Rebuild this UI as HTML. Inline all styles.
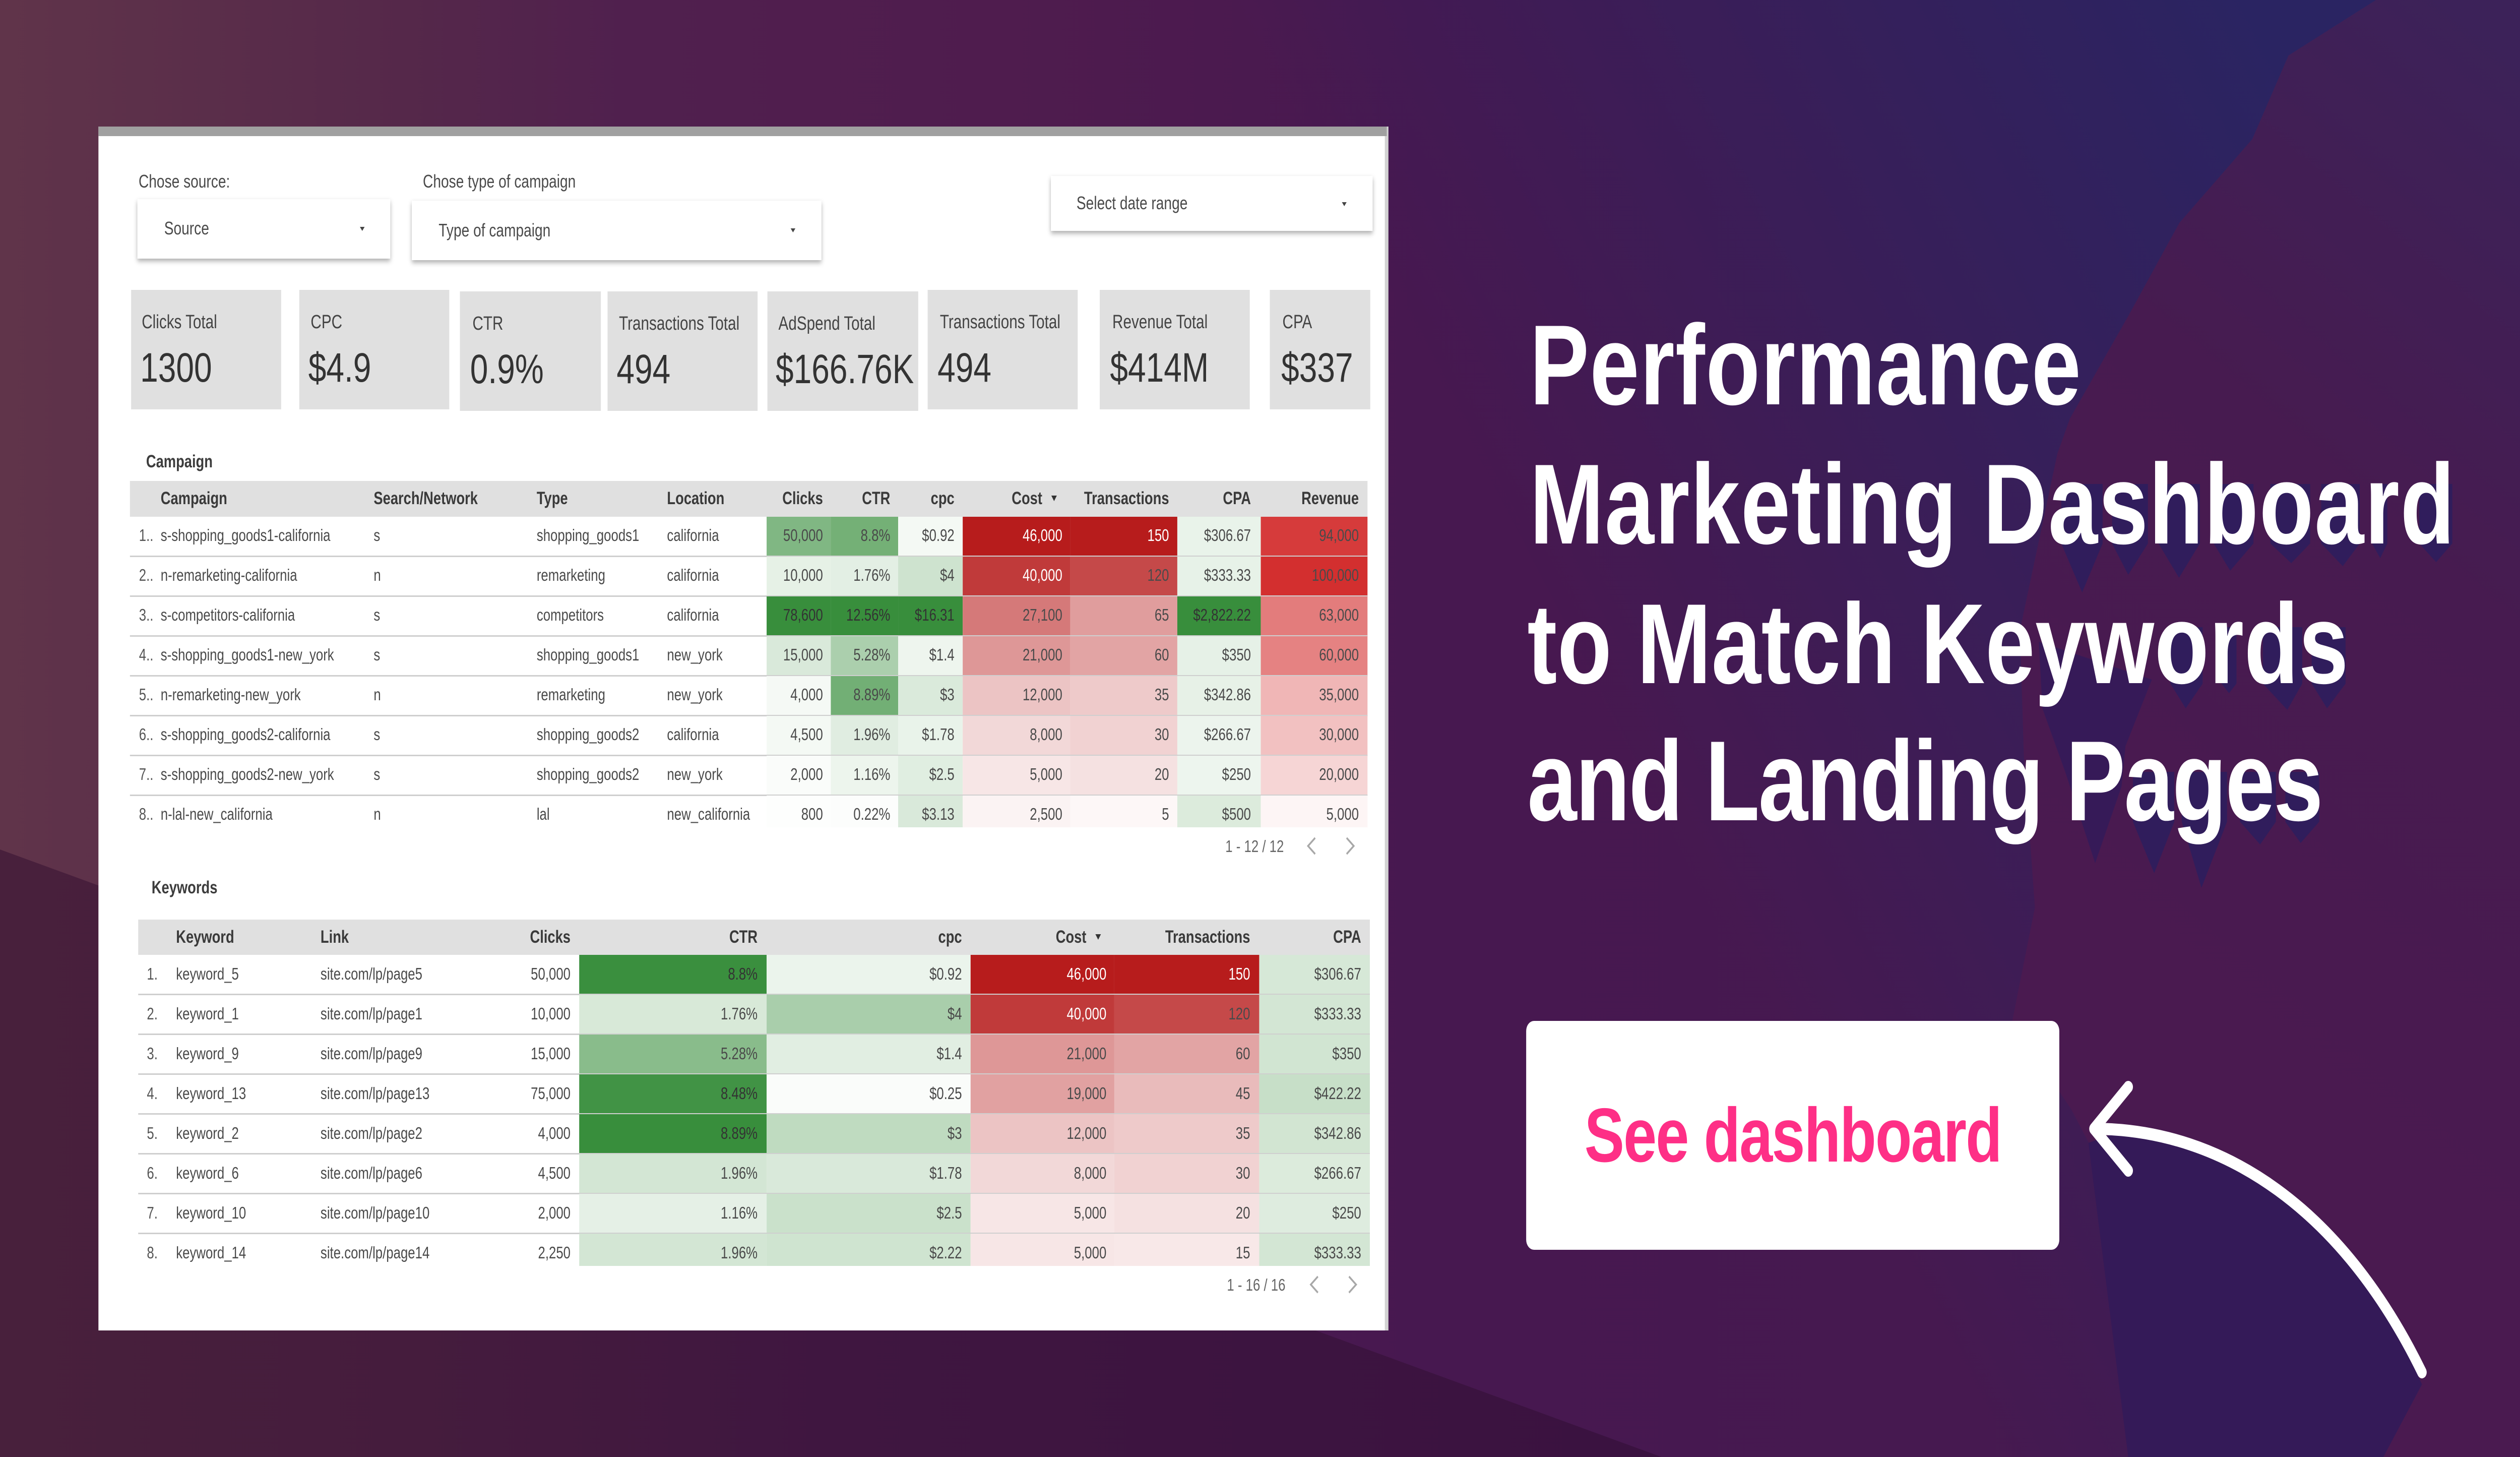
<!DOCTYPE html>
<html lang="en">
<head>
<meta charset="utf-8">
<title>Performance Marketing Dashboard</title>
<style>
html,body{margin:0;padding:0;width:100%;height:100%;overflow:hidden;background:#4a1a50}
#root{display:block;position:absolute;left:0;top:0;width:100vw;height:100vh}
text{font-family:"Liberation Sans",Arial,sans-serif}
</style>
</head>
<body>
<svg id="root" xmlns="http://www.w3.org/2000/svg" viewBox="0 0 6400 2890" preserveAspectRatio="none">
<defs>
<linearGradient id="bgH" gradientUnits="userSpaceOnUse" x1="0" y1="0" x2="6400" y2="0">
<stop offset="0" stop-color="#60344a"/><stop offset=".16" stop-color="#55284a"/><stop offset=".25" stop-color="#50204e"/><stop offset=".4" stop-color="#4f1c4e"/><stop offset=".56" stop-color="#471850"/><stop offset="1" stop-color="#451a50"/>
</linearGradient>
<linearGradient id="bgBlue" gradientUnits="userSpaceOnUse" x1="4000" y1="1300" x2="5800" y2="100">
<stop offset="0" stop-color="#2a2462" stop-opacity="0"/><stop offset=".55" stop-color="#2a2462" stop-opacity=".55"/><stop offset="1" stop-color="#2a2462" stop-opacity="1"/>
</linearGradient>
<linearGradient id="bgRight" gradientUnits="userSpaceOnUse" x1="5200" y1="1900" x2="6400" y2="100">
<stop offset="0" stop-color="#4a1a50"/><stop offset=".55" stop-color="#471b50"/><stop offset="1" stop-color="#3c2259"/>
</linearGradient>
<linearGradient id="bgDark" gradientUnits="userSpaceOnUse" x1="0" y1="0" x2="4200" y2="0">
<stop offset="0" stop-color="#48203c"/><stop offset=".25" stop-color="#451c3d"/><stop offset=".5" stop-color="#3f1640"/><stop offset="1" stop-color="#3a1240"/>
</linearGradient>
<filter id="dropShadow" x="-5%" y="-10%" width="110%" height="130%"><feDropShadow dx="0" dy="5" stdDeviation="5" flood-color="#000" flood-opacity=".32"/></filter>
</defs>

<g>
<rect width="6400" height="2890" fill="url(#bgH)"/>
<rect width="6400" height="2890" fill="url(#bgBlue)"/>
<polygon fill="url(#bgRight)" points="6034,0 5812,110 5720,276 5535,442 5405,627 5257,830 5225,900 5130,1250 5140,1500 5168,1800 5110,2027 5260,2200 5305,2267 5405,2890 6400,2890 6400,0"/>
<polygon fill="#341a58" points="5304,2267 5400,2240 5535,2252 5720,2313 5905,2442 6053,2580 6151,2746 6053,2890 5405,2890"/>
<polygon fill="url(#bgDark)" points="0,1685 4220,2890 0,2890"/>
<g fill="#301d5c">
<polygon points="5235,960 5340,960 5340,1078 5288,1175 5235,1078"/><polygon points="5364,960 5455,960 5455,1078 5405,1140 5364,1078"/><polygon points="5482,960 5587,960 5587,1078 5534,1146 5482,1078"/><polygon points="5622,960 5723,960 5723,1078 5664,1132 5622,1078"/><polygon points="5766,960 5867,960 5867,1078 5819,1117 5766,1078"/><polygon points="5895,960 5993,960 5993,1078 5950,1123 5895,1078"/><polygon points="6024,960 6063,960 6063,1078 6045,1107 6024,1078"/><polygon points="6144,960 6228,960 6228,1078 6187,1115 6144,1078"/>
<polygon fill="#361a58" points="5178,1273 5465,1348 5398,1480 5388,1560 5321,1712 5245,1531 5187,1405"/>
<polygon points="5512,1244 5594,1244 5594,1356 5551,1405 5512,1356"/><polygon points="5642,1244 5680,1244 5680,1356 5661,1375 5642,1356"/><polygon points="5747,1244 5847,1244 5847,1356 5809,1408 5747,1356"/><polygon points="5871,1244 5957,1244 5957,1356 5910,1405 5871,1356"/>
<polygon points="5417,1531 5522,1531 5522,1630 5471,1732 5417,1630"/><polygon points="5541,1531 5656,1531 5656,1630 5591,1761 5541,1630"/><polygon points="5689,1531 5780,1531 5780,1630 5740,1675 5689,1630"/><polygon points="5804,1531 5890,1531 5890,1630 5843,1672 5804,1630"/>
</g>
</g>

<g>
<rect x="250" y="251" width="3276" height="2388" fill="#fff"/>
<rect x="3517" y="251" width="9" height="2388" fill="#d2d2d2"/>
<rect x="250" y="251" width="3272" height="19" fill="#a0a0a0"/>

<g>
<text x="352" y="372" font-size="36" fill="#4a4a4a">Chose source:</text>
<g>
<rect x="349" y="395" width="642" height="118" fill="#fff" filter="url(#dropShadow)"/>
<text x="417" y="465" font-size="36" fill="#4a4a4a">Source</text>
<polygon points="914,450 926,450 920,458" fill="#444"/>
</g>
</g>
<g>
<text x="1074" y="372" font-size="36" fill="#4a4a4a">Chose type of campaign</text>
<g>
<rect x="1046" y="398" width="1040" height="118" fill="#fff" filter="url(#dropShadow)"/>
<text x="1114" y="469" font-size="36" fill="#4a4a4a">Type of campaign</text>
<polygon points="2008,453 2020,453 2014,461" fill="#444"/>
</g>
</g>
<g>
<rect x="2669" y="349" width="817" height="109" fill="#fff" filter="url(#dropShadow)"/>
<text x="2734" y="415" font-size="36" fill="#4a4a4a">Select date range</text>
<polygon points="3408,401 3420,401 3414,409" fill="#444"/>
</g>

<g id="cards"></g>
<text x="371" y="927" font-size="35" font-weight="700" fill="#3c3c3c">Campaign</text>
<g id="campaign-table"></g>
<text x="3112" y="1690" font-size="33" fill="#666">1 - 12 / 12</text>
<polyline points="3340,1662 3322,1678 3340,1694" fill="none" stroke="#a8a8a8" stroke-width="4"/>
<polyline points="3420,1662 3438,1678 3420,1694" fill="none" stroke="#a8a8a8" stroke-width="4"/>

<text x="385" y="1772" font-size="35" font-weight="700" fill="#3c3c3c">Keywords</text>
<g id="keywords-table"></g>
<text x="3116" y="2560" font-size="33" fill="#666">1 - 16 / 16</text>
<polyline points="3347,2532 3329,2548 3347,2564" fill="none" stroke="#a8a8a8" stroke-width="4"/>
<polyline points="3426,2532 3444,2548 3426,2564" fill="none" stroke="#a8a8a8" stroke-width="4"/>
</g>

<g font-weight="700" font-size="226" fill="#fff">
<text x="3885" y="802" textLength="1400" lengthAdjust="spacing">Performance</text>
<text x="3885" y="1078" textLength="2349" lengthAdjust="spacing">Marketing Dashboard</text>
<text x="3879" y="1355" textLength="2085" lengthAdjust="spacing">to Match Keywords</text>
<text x="3879" y="1627" textLength="2021" lengthAdjust="spacing">and Landing Pages</text>
</g>

<g>
<rect x="3876" y="2025" width="1354" height="454" rx="20" ry="20" fill="#fff"/>
<text x="4024" y="2304" font-size="152" font-weight="700" fill="#fe2f86" textLength="1061" lengthAdjust="spacing">See dashboard</text>
</g>
<g fill="none" stroke="#fff" stroke-width="24" stroke-linecap="round" stroke-linejoin="round">
<path d="M5320,2239 C5650,2240 5950,2400 6151,2722"/>
<polyline points="5405,2156 5318,2239 5405,2322"/>
</g>
</svg>

<script>
// Scorecards
var cardLabels = ['Clicks Total','CPC','CTR','Transactions Total','AdSpend Total','Transactions Total','Revenue Total','CPA'];
var cardValues = ['1300','$4.9','0.9%','494','$166.76K','494','$414M','$337'];

// Campaign table
var campaignNames = ['s-shopping_goods1-california','n-remarketing-california','s-competitors-california','s-shopping_goods1-new_york','n-remarketing-new_york','s-shopping_goods2-california','s-shopping_goods2-new_york','n-lal-new_california'];
var campaignNetworks = ['s','n','s','s','n','s','s','n'];
var campaignTypes = ['shopping_goods1','remarketing','competitors','shopping_goods1','remarketing','shopping_goods2','shopping_goods2','lal'];
var campaignLocations = ['california','california','california','new_york','new_york','california','new_york','new_california'];
var campaignClicks = [50000,10000,78600,15000,4000,4500,2000,800];
var campaignCtr = [8.8,1.76,12.56,5.28,8.89,1.96,1.16,0.22];
var campaignCpc = [0.92,4,16.31,1.4,3,1.78,2.5,3.13];
var campaignCost = [46000,40000,27100,21000,12000,8000,5000,2500];
var campaignTransactions = [150,120,65,60,35,30,20,5];
var campaignCpa = [306.67,333.33,2822.22,350,342.86,266.67,250,500];
var campaignRevenue = [94000,100000,63000,60000,35000,30000,20000,5000];

// Keywords table
var keywordNames = ['keyword_5','keyword_1','keyword_9','keyword_13','keyword_2','keyword_6','keyword_10','keyword_14'];
var keywordLinks = ['site.com/lp/page5','site.com/lp/page1','site.com/lp/page9','site.com/lp/page13','site.com/lp/page2','site.com/lp/page6','site.com/lp/page10','site.com/lp/page14'];
var keywordClicks = [50000,10000,15000,75000,4000,4500,2000,2250];
var keywordCtr = [8.8,1.76,5.28,8.48,8.89,1.96,1.16,1.96];
var keywordCpc = [0.92,4,1.4,0.25,3,1.78,2.5,2.22];
var keywordCost = [46000,40000,21000,19000,12000,8000,5000,5000];
var keywordTransactions = [150,120,60,45,35,30,20,15];
var keywordCpa = [306.67,333.33,350,422.22,342.86,266.67,250,333.33];

// Color-scale domain maxima (the 16-row keyword table has values beyond the 8 visible rows)
var keywordCpcDomainMax = 9.3;
var keywordCpaDomainMax = 1500;

var SVGNS = 'http://www.w3.org/2000/svg';
var GREEN = [56,142,60];
var RED = [183,28,28];
var REVENUE_RED = [211,47,47];

function heat(value, max, rgb) {
  var t = Math.max(0, Math.min(1, value / max));
  return 'rgb(' + rgb.map(function (c) { return Math.round(255 + (c - 255) * t); }).join(',') + ')';
}
function fmtInt(v) { return v.toLocaleString('en-US'); }
function fmtPct(v) { return v + '%'; }
function fmtUsd(v) { return '$' + v.toLocaleString('en-US', {maximumFractionDigits: 2}); }
function fmtPlain(v) { return String(v); }

function addRect(parent, name, x, y, w, h, fill) {
  var el = document.createElementNS(SVGNS, 'rect');
  
  
  el.setAttribute('x', x);
  el.setAttribute('y', y);
  el.setAttribute('width', w);
  el.setAttribute('height', h);
  el.setAttribute('fill', fill);
  parent.appendChild(el);
  return el;
}
function addText(parent, name, x, y, str, size, fill, anchor, weight) {
  var el = document.createElementNS(SVGNS, 'text');
  
  
  el.setAttribute('x', x);
  el.setAttribute('y', y);
  el.setAttribute('font-size', size);
  el.setAttribute('fill', fill);
  if (anchor) el.setAttribute('text-anchor', anchor);
  if (weight) el.setAttribute('font-weight', weight);
  el.textContent = str;
  parent.appendChild(el);
  return el;
}
function addCaret(parent, name, x, y) {
  var el = document.createElementNS(SVGNS, 'polygon');
  
  
  el.setAttribute('points', (x - 7) + ',' + (y - 5) + ' ' + (x + 7) + ',' + (y - 5) + ' ' + x + ',' + (y + 6));
  el.setAttribute('fill', '#333');
  parent.appendChild(el);
}

/* Scorecards */
var cardLeft = [333,760,1168,1543,1949,2356,2793,3225];
var cardRight = [714,1141,1526,1924,2332,2737,3174,3480];
var cardLabelX = [360,789,1200,1572,1977,2387,2825,3257];
var cardValueX = [356,783,1194,1566,1970,2381,2819,3254];
var cardTop = [575,575,578,578,578,575,575,575];
var cardsG = document.getElementById('cards');
cardLabels.forEach(function (label, i) {
  addRect(cardsG, 'scorecard-background-' + (i + 1), cardLeft[i], cardTop[i], cardRight[i] - cardLeft[i], 237, '#e0e0e0');
  addText(cardsG, 'scorecard-label-' + (i + 1), cardLabelX[i], cardTop[i] + 76, label, 38, '#444');
  addText(cardsG, 'scorecard-value-' + (i + 1), cardValueX[i], cardTop[i] + 182, cardValues[i], 82, '#333');
});

/* Generic heatmap table */
function drawTable(cfg) {
  var g = cfg.group;
  addRect(g, cfg.id + '-header-background', cfg.left, cfg.headerTop, cfg.right - cfg.left, cfg.firstRow - cfg.headerTop, '#e0e0e0');
  cfg.columns.forEach(function (col) {
    addText(g, cfg.id + '-header-' + col.key, col.headX || col.x, cfg.headerBase, col.title, 35, '#3a3a3a', col.right ? 'end' : null, 700);
    if (col.sorted) addCaret(g, cfg.id + '-sort-indicator', col.headX + 30, cfg.headerBase - 12);
  });
  for (var r = 0; r < cfg.rows; r++) {
    var y0 = cfg.firstRow + r * cfg.rowH;
    var y1 = r === cfg.rows - 1 ? cfg.bottom : y0 + cfg.rowH;
    var base = cfg.rowBase + r * cfg.rowH;
    cfg.columns.forEach(function (col) {
      if (col.heat) {
        addRect(g, cfg.id + '-heat-' + col.key + '-row-' + (r + 1), col.x0, y0, col.x1 - col.x0, y1 - y0, heat(col.values[r], col.max, col.heat));
      }
    });
    addText(g, cfg.id + '-row-index-' + (r + 1), cfg.indexX, base, (r + 1) + cfg.indexSuffix, 33, '#555');
    cfg.columns.forEach(function (col) {
      var v = col.values[r];
      var fill = '#4a4a4a';
      if (col.heat && col.white && v / col.max >= col.white) fill = '#fff';
      if (col.heat === GREEN && v / col.max > 0.9) fill = '#333';
      addText(g, cfg.id + '-' + col.key + '-row-' + (r + 1), col.x, base, col.fmt(v), 33, fill, col.right ? 'end' : null);
    });
    if (r < cfg.rows - 1) addRect(g, cfg.id + '-row-separator-' + (r + 1), cfg.left, y1 - 2, cfg.right - cfg.left, 3, '#cfcfcf');
  }
}

drawTable({
  id: 'campaign',
  group: document.getElementById('campaign-table'),
  left: 330, right: 3473, headerTop: 954, firstRow: 1025, rowH: 79, rows: 8, bottom: 1641,
  headerBase: 1000, rowBase: 1073, indexX: 353, indexSuffix: '..',
  columns: [
    {key:'campaign', title:'Campaign', x:408, values:campaignNames, fmt:fmtPlain},
    {key:'network', title:'Search/Network', x:949, values:campaignNetworks, fmt:fmtPlain},
    {key:'type', title:'Type', x:1363, values:campaignTypes, fmt:fmtPlain},
    {key:'location', title:'Location', x:1694, values:campaignLocations, fmt:fmtPlain},
    {key:'clicks', title:'Clicks', x:2090, right:true, x0:1947, x1:2110, heat:GREEN, max:78600, values:campaignClicks, fmt:fmtInt},
    {key:'ctr', title:'CTR', x:2261, right:true, x0:2110, x1:2281, heat:GREEN, max:12.56, values:campaignCtr, fmt:fmtPct},
    {key:'cpc', title:'cpc', x:2424, right:true, x0:2281, x1:2445, heat:GREEN, max:16.31, values:campaignCpc, fmt:fmtUsd},
    {key:'cost', title:'Cost', x:2698, headX:2647, right:true, x0:2445, x1:2718, heat:RED, max:46000, white:0.8, values:campaignCost, fmt:fmtInt, sorted:true},
    {key:'transactions', title:'Transactions', x:2969, right:true, x0:2718, x1:2990, heat:RED, max:150, white:0.9, values:campaignTransactions, fmt:fmtPlain},
    {key:'cpa', title:'CPA', x:3177, right:true, x0:2990, x1:3202, heat:GREEN, max:2822.22, values:campaignCpa, fmt:fmtUsd},
    {key:'revenue', title:'Revenue', x:3451, right:true, x0:3202, x1:3473, heat:REVENUE_RED, max:100000, values:campaignRevenue, fmt:fmtInt}
  ]
});

drawTable({
  id: 'keywords',
  group: document.getElementById('keywords-table'),
  left: 351, right: 3479, headerTop: 1824, firstRow: 1894, rowH: 79, rows: 8, bottom: 2511,
  headerBase: 1870, rowBase: 1943, indexX: 373, indexSuffix: '.',
  columns: [
    {key:'keyword', title:'Keyword', x:447, values:keywordNames, fmt:fmtPlain},
    {key:'link', title:'Link', x:814, values:keywordLinks, fmt:fmtPlain},
    {key:'clicks', title:'Clicks', x:1449, right:true, values:keywordClicks, fmt:fmtInt},
    {key:'ctr', title:'CTR', x:1924, right:true, x0:1471, x1:1947, heat:GREEN, max:8.89, values:keywordCtr, fmt:fmtPct},
    {key:'cpc', title:'cpc', x:2443, right:true, x0:1947, x1:2465, heat:GREEN, max:keywordCpcDomainMax, values:keywordCpc, fmt:fmtUsd},
    {key:'cost', title:'Cost', x:2810, headX:2759, right:true, x0:2465, x1:2830, heat:RED, max:46000, white:0.8, values:keywordCost, fmt:fmtInt, sorted:true},
    {key:'transactions', title:'Transactions', x:3175, right:true, x0:2830, x1:3198, heat:RED, max:150, white:0.9, values:keywordTransactions, fmt:fmtPlain},
    {key:'cpa', title:'CPA', x:3457, right:true, x0:3198, x1:3479, heat:GREEN, max:keywordCpaDomainMax, values:keywordCpa, fmt:fmtUsd}
  ]
});
</script>
</body>
</html>
